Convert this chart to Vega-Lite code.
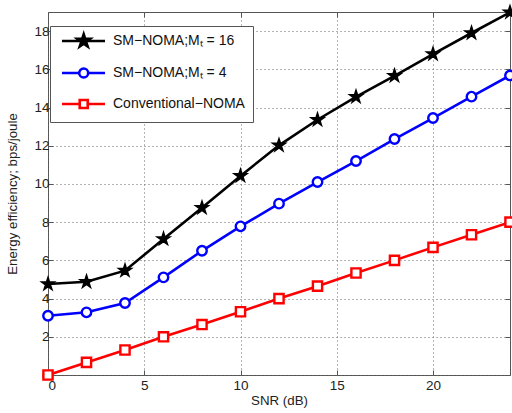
{
  "$schema": "https://vega.github.io/schema/vega-lite/v6.json",
  "width": 462,
  "height": 363,
  "autosize": {"type": "none"},
  "padding": {"left": 48, "top": 12, "right": 2, "bottom": 38},
  "background": "white",
  "config": {
    "font": "Liberation Sans",
    "view": {"stroke": "#555555", "strokeWidth": 1},
    "axis": {
      "grid": true,
      "gridColor": "#666666",
      "gridDash": [1, 3],
      "gridWidth": 1,
      "domain": false,
      "tickColor": "#555555",
      "tickSize": -5,
      "labelFont": "Liberation Sans",
      "labelFontSize": 13.5,
      "labelColor": "#222222",
      "titleFont": "Liberation Sans",
      "titleFontSize": 13.3,
      "titleFontWeight": "normal",
      "titleColor": "#222222"
    }
  },
  "data": {
    "values": [
      {"x": 0, "y": 4.76, "s": "a"}, {"x": 2, "y": 4.88, "s": "a"}, {"x": 4, "y": 5.46, "s": "a"},
      {"x": 6, "y": 7.12, "s": "a"}, {"x": 8, "y": 8.75, "s": "a"}, {"x": 10, "y": 10.42, "s": "a"},
      {"x": 12, "y": 12.02, "s": "a"}, {"x": 14, "y": 13.36, "s": "a"}, {"x": 16, "y": 14.56, "s": "a"},
      {"x": 18, "y": 15.66, "s": "a"}, {"x": 20, "y": 16.8, "s": "a"}, {"x": 22, "y": 17.9, "s": "a"},
      {"x": 24, "y": 18.98, "s": "a"},
      {"x": 0, "y": 3.1, "s": "b"}, {"x": 2, "y": 3.28, "s": "b"}, {"x": 4, "y": 3.77, "s": "b"},
      {"x": 6, "y": 5.11, "s": "b"}, {"x": 8, "y": 6.5, "s": "b"}, {"x": 10, "y": 7.78, "s": "b"},
      {"x": 12, "y": 8.97, "s": "b"}, {"x": 14, "y": 10.1, "s": "b"}, {"x": 16, "y": 11.2, "s": "b"},
      {"x": 18, "y": 12.35, "s": "b"}, {"x": 20, "y": 13.45, "s": "b"}, {"x": 22, "y": 14.57, "s": "b"},
      {"x": 24, "y": 15.68, "s": "b"},
      {"x": 0, "y": 0, "s": "c"}, {"x": 2, "y": 0.66, "s": "c"}, {"x": 4, "y": 1.31, "s": "c"},
      {"x": 6, "y": 2.0, "s": "c"}, {"x": 8, "y": 2.64, "s": "c"}, {"x": 10, "y": 3.31, "s": "c"},
      {"x": 12, "y": 4.0, "s": "c"}, {"x": 14, "y": 4.65, "s": "c"}, {"x": 16, "y": 5.34, "s": "c"},
      {"x": 18, "y": 6.0, "s": "c"}, {"x": 20, "y": 6.68, "s": "c"}, {"x": 22, "y": 7.34, "s": "c"},
      {"x": 24, "y": 8.0, "s": "c"}
    ]
  },
  "resolve": {"axis": {"x": "independent", "y": "independent"}},
  "layer": [
    {
      "mark": {"type": "line", "strokeWidth": 2.6},
      "encoding": {
        "x": {"field": "x", "type": "quantitative",
              "scale": {"domain": [0, 24], "nice": false, "zero": false},
              "axis": {"title": "SNR (dB)", "values": [0, 5, 10, 15, 20], "labelPadding": 8, "titlePadding": 2}},
        "y": {"field": "y", "type": "quantitative",
              "scale": {"domain": [0, 19], "nice": false},
              "axis": {"title": "Energy efficiency; bps/joule", "values": [0, 2, 4, 6, 8, 10, 12, 14, 16, 18], "labelPadding": 4, "titlePadding": 14}},
        "color": {
          "field": "s", "type": "nominal",
          "scale": {"domain": ["a", "b", "c"], "range": ["#000000", "#0000ff", "#ff0000"]},
          "legend": {
            "orient": "none",
            "legendX": 2,
            "legendY": 14,
            "title": null,
            "strokeColor": "#555555",
            "fillColor": "#ffffff",
            "padding": 8,
            "symbolSize": 100,
            "symbolStrokeWidth": 2.6,
            "labelFont": "Liberation Sans",
            "labelFontSize": 14,
            "labelColor": "#111111",
            "labelOffset": 41,
            "rowPadding": 11,
            "labelExpr": "datum.value == 'a' ? 'SM−NOMA;Mₜ = 16' : datum.value == 'b' ? 'SM−NOMA;Mₜ = 4' : 'Conventional−NOMA'",
            "encoding": {
              "symbols": {
                "shape": {"value": {"expr": "datum.value == 'a' ? 'M-0.6,0H8M3.74,-1.35L4.04,-0.42L5.02,-0.42L4.23,0.16L4.53,1.09L3.74,0.52L2.95,1.09L3.25,0.16L2.46,-0.42L3.44,-0.42Z' : datum.value == 'b' ? 'M-0.6,0H2.84M4.64,0H8M2.84,0A0.9,0.9,0,1,0,4.64,0A0.9,0.9,0,1,0,2.84,0Z' : 'M-0.6,0H2.94M4.54,0H8M2.94,-0.8H4.54V0.8H2.94Z'"}},
                "fill": {"value": {"expr": "datum.value == 'a' ? '#000000' : '#ffffff'"}},
                "fillOpacity": {"value": 1}
              }
            }
          }
        }
      }
    },
    {
      "transform": [{"filter": "datum.s == 'a'"}],
      "mark": {"type": "point", "shape": "M0,-1L0.225,-0.309L0.951,-0.309L0.363,0.118L0.588,0.809L0,0.382L-0.588,0.809L-0.363,0.118L-0.951,-0.309L-0.225,-0.309Z", "size": 180, "filled": true, "fill": "#000000", "stroke": "#000000", "strokeWidth": 1.5, "opacity": 1},
      "encoding": {
        "x": {"field": "x", "type": "quantitative", "axis": null},
        "y": {"field": "y", "type": "quantitative", "axis": null}
      }
    },
    {
      "transform": [{"filter": "datum.s == 'b'"}],
      "mark": {"type": "point", "shape": "circle", "size": 90, "fill": "#ffffff", "stroke": "#0000ff", "strokeWidth": 2.4, "opacity": 1, "fillOpacity": 1},
      "encoding": {
        "x": {"field": "x", "type": "quantitative", "axis": null},
        "y": {"field": "y", "type": "quantitative", "axis": null}
      }
    },
    {
      "transform": [{"filter": "datum.s == 'c'"}],
      "mark": {"type": "point", "shape": "square", "size": 85, "fill": "#ffffff", "stroke": "#ff0000", "strokeWidth": 2.4, "opacity": 1, "fillOpacity": 1},
      "encoding": {
        "x": {"field": "x", "type": "quantitative", "axis": null},
        "y": {"field": "y", "type": "quantitative", "axis": null}
      }
    },
    {
      "mark": {"type": "point", "opacity": 0},
      "encoding": {
        "x": {"field": "x", "type": "quantitative",
              "axis": {"orient": "top", "labels": false, "grid": false, "title": null, "values": [0, 5, 10, 15, 20]}},
        "y": {"field": "y", "type": "quantitative",
              "axis": {"orient": "right", "labels": false, "grid": false, "title": null, "values": [0, 2, 4, 6, 8, 10, 12, 14, 16, 18]}}
      }
    }
  ]
}
